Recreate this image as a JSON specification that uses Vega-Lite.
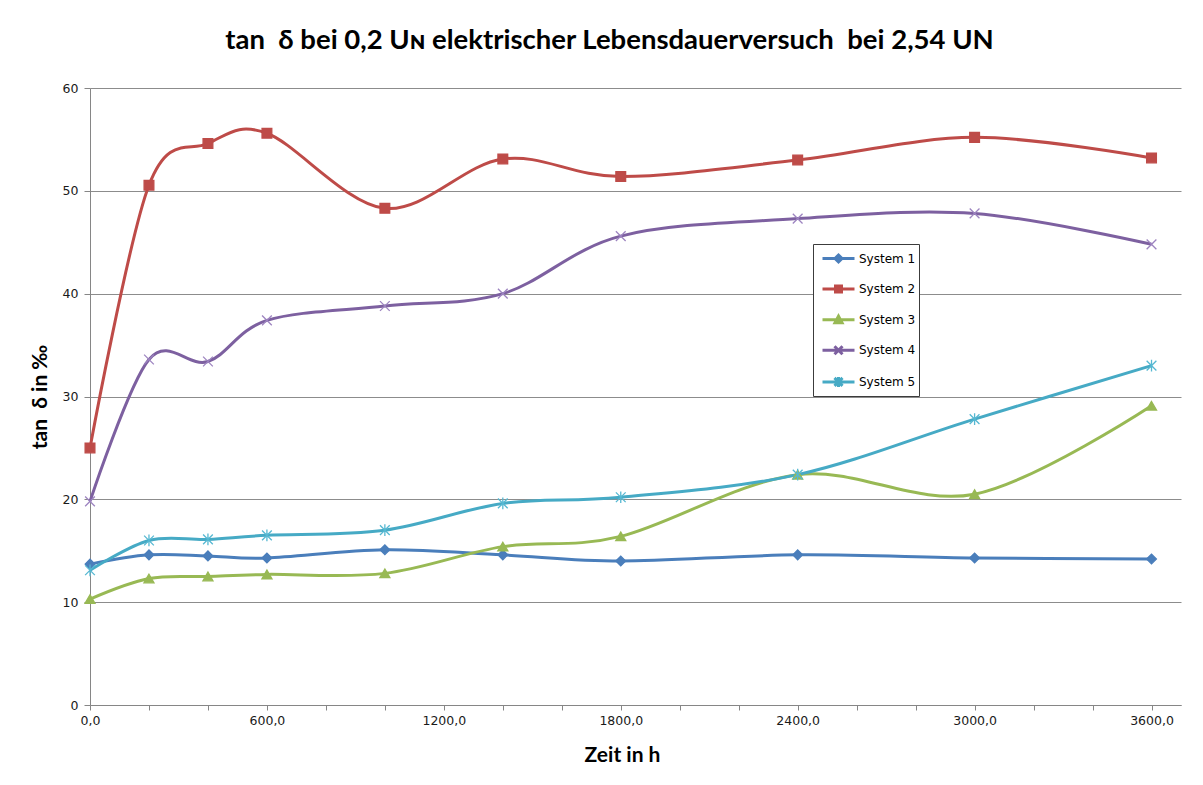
{
  "$schema": "https://vega.github.io/schema/vega-lite/v6.json",
  "width": 1091,
  "height": 617,
  "autosize": {"type": "none"},
  "padding": {"left": 90, "top": 88, "right": 22, "bottom": 80},
  "background": "white",
  "title": {
    "text": "tan\u00a0 δ bei 0,2 Uɴ elektrischer Lebensdauerversuch\u00a0 bei 2,54 UN",
    "font": "Lato",
    "fontSize": 27.5,
    "fontWeight": "bold",
    "color": "#000000",
    "anchor": "middle",
    "baseline": "bottom",
    "offset": 0,
    "dx": -26
  },
  "config": {
    "view": {"stroke": null},
    "axis": {
      "labelFont": "DejaVu Sans",
      "labelFontSize": 12.5,
      "labelColor": "#1a1a1a",
      "domainColor": "#868686",
      "tickColor": "#868686",
      "titleFont": "Lato",
      "titleFontSize": 21,
      "titleFontWeight": "bold",
      "titleColor": "#000000"
    }
  },
  "data": {
    "values": [
      {"h": 0, "v": 13.7, "s": "System 1"},
      {"h": 200, "v": 14.6, "s": "System 1"},
      {"h": 400, "v": 14.5, "s": "System 1"},
      {"h": 600, "v": 14.3, "s": "System 1"},
      {"h": 1000, "v": 15.1, "s": "System 1"},
      {"h": 1400, "v": 14.6, "s": "System 1"},
      {"h": 1800, "v": 14.0, "s": "System 1"},
      {"h": 2400, "v": 14.6, "s": "System 1"},
      {"h": 3000, "v": 14.3, "s": "System 1"},
      {"h": 3600, "v": 14.2, "s": "System 1"},
      {"h": 0, "v": 25.0, "s": "System 2"},
      {"h": 200, "v": 50.55, "s": "System 2"},
      {"h": 400, "v": 54.6, "s": "System 2"},
      {"h": 600, "v": 55.6, "s": "System 2"},
      {"h": 1000, "v": 48.3, "s": "System 2"},
      {"h": 1400, "v": 53.1, "s": "System 2"},
      {"h": 1800, "v": 51.4, "s": "System 2"},
      {"h": 2400, "v": 53.0, "s": "System 2"},
      {"h": 3000, "v": 55.2, "s": "System 2"},
      {"h": 3600, "v": 53.2, "s": "System 2"},
      {"h": 0, "v": 10.3, "s": "System 3"},
      {"h": 200, "v": 12.3, "s": "System 3"},
      {"h": 400, "v": 12.5, "s": "System 3"},
      {"h": 600, "v": 12.7, "s": "System 3"},
      {"h": 1000, "v": 12.8, "s": "System 3"},
      {"h": 1400, "v": 15.4, "s": "System 3"},
      {"h": 1800, "v": 16.4, "s": "System 3"},
      {"h": 2400, "v": 22.4, "s": "System 3"},
      {"h": 3000, "v": 20.5, "s": "System 3"},
      {"h": 3600, "v": 29.1, "s": "System 3"},
      {"h": 0, "v": 19.8, "s": "System 4"},
      {"h": 200, "v": 33.6, "s": "System 4"},
      {"h": 400, "v": 33.4, "s": "System 4"},
      {"h": 600, "v": 37.4, "s": "System 4"},
      {"h": 1000, "v": 38.8, "s": "System 4"},
      {"h": 1400, "v": 40.0, "s": "System 4"},
      {"h": 1800, "v": 45.6, "s": "System 4"},
      {"h": 2400, "v": 47.3, "s": "System 4"},
      {"h": 3000, "v": 47.8, "s": "System 4"},
      {"h": 3600, "v": 44.8, "s": "System 4"},
      {"h": 0, "v": 13.1, "s": "System 5"},
      {"h": 200, "v": 16.0, "s": "System 5"},
      {"h": 400, "v": 16.1, "s": "System 5"},
      {"h": 600, "v": 16.5, "s": "System 5"},
      {"h": 1000, "v": 17.0, "s": "System 5"},
      {"h": 1400, "v": 19.6, "s": "System 5"},
      {"h": 1800, "v": 20.2, "s": "System 5"},
      {"h": 2400, "v": 22.4, "s": "System 5"},
      {"h": 3000, "v": 27.8, "s": "System 5"},
      {"h": 3600, "v": 33.0, "s": "System 5"}
    ]
  },
  "encoding": {
    "x": {
      "field": "h",
      "type": "quantitative",
      "scale": {"domain": [0, 3700], "nice": false, "zero": false},
      "axis": {
        "title": "Zeit in h",
        "values": [0, 200, 400, 600, 800, 1000, 1200, 1400, 1600, 1800, 2000, 2200, 2400, 2600, 2800, 3000, 3200, 3400, 3600],
        "labelExpr": "datum.value % 600 === 0 ? replace(format(datum.value, '.1f'), '.', ',') : ''",
        "labelOverlap": false,
        "labelFlush": false,
        "grid": false,
        "tickSize": 5,
        "labelPadding": 4,
        "titlePadding": 18,
        "titleX": 532
      }
    },
    "y": {
      "field": "v",
      "type": "quantitative",
      "scale": {"domain": [0, 60], "nice": false},
      "axis": {
        "title": "tan\u00a0 δ in ‰",
        "values": [0, 10, 20, 30, 40, 50, 60],
        "grid": true,
        "gridColor": "#8c8c8c",
        "gridWidth": 1,
        "tickSize": 6,
        "labelPadding": 6,
        "titlePadding": 12
      }
    },
    "color": {
      "field": "s",
      "type": "nominal",
      "scale": {
        "domain": ["System 1", "System 2", "System 3", "System 4", "System 5"],
        "range": ["#4A7EBB", "#BE4B48", "#98B954", "#7D60A0", "#46AAC5"]
      },
      "legend": {
        "title": null,
        "orient": "none",
        "legendX": 723,
        "legendY": 156,
        "strokeColor": "#3c3c3c",
        "fillColor": "#ffffff",
        "padding": 3,
        "symbolSize": 400,
        "symbolStrokeWidth": 3,
        "labelOffset": 20,
        "rowPadding": 9.6,
        "labelFont": "DejaVu Sans",
        "labelFontSize": 12,
        "labelColor": "#000000",
        "labelExpr": "datum.label + '  '",
        "encode": {
          "symbols": {
            "update": {
              "shape": {"signal": "datum.value === 'System 1' ? 'M-0.5,0H2.7M1.1,-0.35L1.45,0L1.1,0.35L0.75,0Z' : datum.value === 'System 2' ? 'M-0.5,0H2.7M0.8,-0.3H1.4V0.3H0.8Z' : datum.value === 'System 3' ? 'M-0.5,0H2.7M1.1,-0.35L1.45,0.3L0.75,0.3Z' : datum.value === 'System 4' ? 'M-0.5,0H2.7M0.7,-0.4L1.5,0.4M0.7,0.4L1.5,-0.4' : 'M-0.5,0H2.7M0.7,-0.4L1.5,0.4M0.7,0.4L1.5,-0.4M1.1,-0.5V0.5'"},
              "stroke": {"signal": "scale('color', datum.value)"},
              "fill": {"signal": "scale('color', datum.value)"},
              "strokeWidth": {"value": 3},
              "opacity": {"value": 1}
            }
          }
        }
      }
    }
  },
  "layer": [
    {
      "mark": {"type": "line", "interpolate": "cardinal", "strokeWidth": 3}
    },
    {
      "transform": [{"filter": "datum.s === 'System 1'"}],
      "mark": {"type": "point", "shape": "diamond", "filled": true, "opacity": 1, "size": 95, "stroke": "#4A7EBB", "strokeWidth": 1.3}
    },
    {
      "transform": [{"filter": "datum.s === 'System 2'"}],
      "mark": {"type": "point", "shape": "square", "filled": true, "opacity": 1, "size": 95, "stroke": "#BE4B48", "strokeWidth": 1.3}
    },
    {
      "transform": [{"filter": "datum.s === 'System 3'"}],
      "mark": {"type": "point", "shape": "triangle-up", "filled": true, "opacity": 1, "size": 100, "stroke": "#98B954", "strokeWidth": 1.3}
    },
    {
      "transform": [{"filter": "datum.s === 'System 4'"}],
      "mark": {"type": "point", "shape": "M-1,-1L1,1M-1,1L1,-1", "filled": true, "opacity": 1, "size": 95, "stroke": "#9D84C0", "strokeWidth": 1.3}
    },
    {
      "transform": [{"filter": "datum.s === 'System 5'"}],
      "mark": {"type": "point", "shape": "M-1,-1L1,1M-1,1L1,-1M0,-1.2V1.2", "filled": true, "opacity": 1, "size": 95, "stroke": "#56B8D2", "strokeWidth": 1.3}
    }
  ]
}
